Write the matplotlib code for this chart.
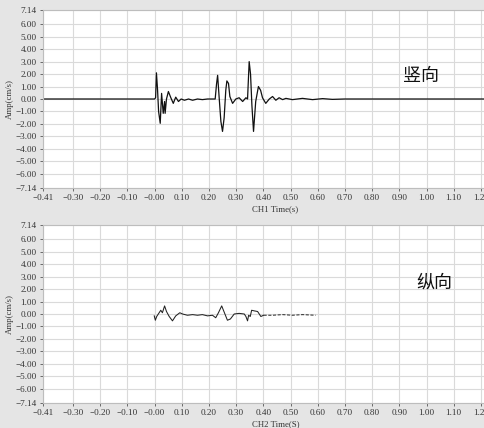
import matplotlib
matplotlib.use("Agg")
import matplotlib.pyplot as plt

# ---- data ----
x_ticks = [-0.41, -0.30, -0.20, -0.10, 0.00, 0.10, 0.20, 0.30, 0.40, 0.50,
           0.60, 0.70, 0.80, 0.90, 1.00, 1.10, 1.20]
x_tick_labels = ["−0.41", "−0.30", "−0.20", "−0.10", "−0.00", "0.10", "0.20", "0.30",
                 "0.40", "0.50", "0.60", "0.70", "0.80", "0.90", "1.00", "1.10", "1.20"]
y_ticks = [-7.14, -6, -5, -4, -3, -2, -1, 0, 1, 2, 3, 4, 5, 6, 7.14]
y_tick_labels = ["−7.14", "−6.00", "−5.00", "−4.00", "−3.00", "−2.00", "−1.00", "0.00",
                 "1.00", "2.00", "3.00", "4.00", "5.00", "6.00", "7.14"]

# CH1 (vertical) velocity trace
ch1_t = [-0.41, 0.000, 0.004, 0.007, 0.011, 0.015, 0.021, 0.026, 0.032, 0.037, 0.039,
         0.044, 0.051, 0.060, 0.069, 0.078, 0.088, 0.098, 0.110, 0.125, 0.140, 0.158,
         0.176, 0.195, 0.213, 0.223, 0.228, 0.232, 0.238, 0.244, 0.250, 0.256, 0.262,
         0.266, 0.272, 0.277, 0.287, 0.299, 0.311, 0.324, 0.336, 0.342, 0.348, 0.353,
         0.358, 0.364, 0.372, 0.382, 0.390, 0.397, 0.409, 0.422, 0.434, 0.446, 0.458,
         0.471, 0.483, 0.507, 0.544, 0.581, 0.618, 0.654, 0.699, 1.30]
ch1_v = [0.0, 0.0, 0.1, 2.1, 0.8, -1.0, -1.95, 0.45, -1.15, -0.2, -1.15,
         0.0, 0.6, 0.1, -0.35, 0.15, -0.2, 0.0, -0.1, 0.0, -0.1, 0.0,
         -0.05, 0.0, 0.0, 0.0, 1.2, 1.9, 0.0, -1.8, -2.6, -1.5, 0.7,
         1.45, 1.25, 0.2, -0.35, 0.0, 0.1, -0.2, 0.1, 0.0, 3.0, 2.0,
         -0.5, -2.6, -0.2, 1.0, 0.7, 0.1, -0.35, 0.0, 0.2, -0.1, 0.1,
         -0.05, 0.05, -0.05, 0.05, -0.05, 0.03, -0.03, 0.0, 0.0]

# CH2 (longitudinal) trace - solid part
ch2_t = [-0.001, 0.003, 0.008, 0.017, 0.023, 0.029, 0.037, 0.044, 0.054, 0.066, 0.078,
         0.093, 0.103, 0.121, 0.140, 0.158, 0.176, 0.195, 0.213, 0.225, 0.235, 0.247,
         0.257, 0.268, 0.279, 0.293, 0.311, 0.330, 0.336, 0.342, 0.346, 0.352, 0.357,
         0.367, 0.379, 0.391, 0.401]
ch2_v = [-0.15, -0.5, -0.2, 0.1, 0.3, 0.1, 0.65, 0.2, -0.2, -0.55, -0.15,
         0.1, 0.0, -0.1, -0.05, -0.1, -0.05, -0.15, -0.1, -0.3, 0.1, 0.65,
         0.1, -0.5, -0.4, 0.0, 0.05, 0.0, -0.2, -0.55, -0.1, -0.2, 0.3,
         0.25, 0.2, -0.2, -0.1]
# CH2 trace - dashed tail
ch2_tail_t = [0.401, 0.415, 0.434, 0.471, 0.507, 0.544, 0.592]
ch2_tail_v = [-0.1, -0.1, -0.1, -0.05, -0.1, -0.05, -0.1]

panels = [
    dict(label="竖向", xlabel="CH1 Time(s)", ylabel="Amp(cm/s)"),
    dict(label="纵向", xlabel="CH2 Time(S)", ylabel="Amp(cm/s)"),
]

W, H = 484, 428
fig = plt.figure(figsize=(W / 100, H / 100), dpi=100, facecolor="#e5e5e5")

xmin, xmax = -0.41, 1.30
ax_w = (xmax - xmin) * 272 / W
ax_h = 178 / H
left = 43 / W
ax1 = fig.add_axes([left, 1 - 188 / H, ax_w, ax_h])
ax2 = fig.add_axes([left, 1 - 403 / H, ax_w, ax_h])

tick_font = dict(family="Liberation Serif", size=6.6)

for ax, p in zip([ax1, ax2], panels):
    ax.set_facecolor("white")
    ax.set_xlim(xmin, xmax)
    ax.set_ylim(-7.14, 7.14)
    ax.set_xticks(x_ticks)
    ax.set_xticklabels(x_tick_labels, **tick_font, color="#333333")
    ax.set_yticks(y_ticks)
    ax.set_yticklabels(y_tick_labels, **tick_font, color="#333333")
    ax.grid(True, color="#dadada", linewidth=0.8)
    ax.set_axisbelow(True)
    ax.tick_params(length=2.5, width=0.6, color="#555555", pad=2)
    for s in ax.spines.values():
        s.set_color("#bdbdbd")
        s.set_linewidth(0.8)
    ax.set_xlabel(p["xlabel"], family="Liberation Serif", size=6.3, color="#333333", labelpad=2)
    ax.set_ylabel(p["ylabel"], family="Liberation Serif", size=6.3, color="#333333", labelpad=1)

ax1.plot(ch1_t, ch1_v, color="#111111", linewidth=0.9)
ax2.plot(ch2_t, ch2_v, color="#222222", linewidth=0.75)
ax2.plot(ch2_tail_t, ch2_tail_v, color="#333333", linewidth=0.75, linestyle=(0, (3, 1.5)))

fig.text(421 / W, 1 - 76 / H, panels[0]["label"], family=["Noto Sans CJK SC"], size=13,
         ha="center", va="center", color="#111111")
fig.text(434 / W, 1 - 283 / H, panels[1]["label"], family=["Noto Sans CJK SC"], size=13,
         ha="center", va="center", color="#111111")

fig.savefig("out.png", dpi=100, facecolor=fig.get_facecolor())
